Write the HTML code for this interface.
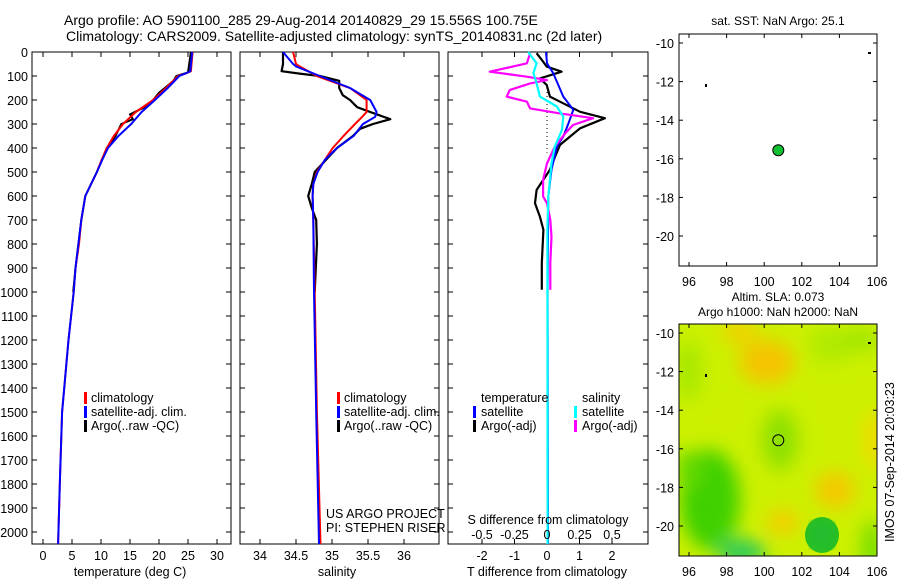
<!DOCTYPE html>
<html><head><meta charset="utf-8"><style>
html,body{margin:0;padding:0;background:#fff;}
svg{display:block;font-family:"Liberation Sans",sans-serif;}
text{fill:#000;}
</style></head><body>
<svg id="fig" width="900" height="580" viewBox="0 0 900 580" xmlns="http://www.w3.org/2000/svg">
<defs><filter id="blur" x="-20%" y="-20%" width="140%" height="140%"><feGaussianBlur stdDeviation="9"/></filter>
<clipPath id="mapclip"><rect x="679" y="324" width="198" height="232"/></clipPath></defs>
<text x="64" y="25" font-size="14">Argo profile: AO 5901100_285 29-Aug-2014 20140829_29 15.556S 100.75E</text>
<text x="66" y="41" font-size="14">Climatology: CARS2009. Satellite-adjusted climatology: synTS_20140831.nc (2d later)</text>
<g id="g"></g>
</svg>
<script>
// ---------- data ----------
var depthTicks=[0,100,200,300,400,500,600,700,800,900,1000,1100,1200,1300,1400,1500,1600,1700,1800,1900,2000];
var tempTicks=[0,5,10,15,20,25,30];
var salTicks=[34,34.5,35,35.5,36];
var tdiffTicks=[-2,-1,0,1,2];
var sdiffTicks=[-0.5,-0.25,0,0.25,0.5];
var sdiffLabels=["-0.5","-0.25","0","0.25","0.5"];
var lonTicks=[96,98,100,102,104,106];
var latTicks=[-10,-12,-14,-16,-18,-20];

var climDepth=[0,80,90,100,150,200,250,300,350,400,450,500,600,700,800,900,1000,1200,1500,1800,2050];
var tempSat=[25.7,25.4,24.5,23.5,21.5,19.3,17,15.2,13,11.2,10.2,9.3,7.3,6.6,6.1,5.6,5.3,4.4,3.3,2.9,2.6];
var tempClim=[25.8,25.5,24.6,23.3,21.2,19,16,13.8,12.2,11,10.1,9.3,7.3,6.6,6.2,5.6,5.3,4.4,3.3,2.9,2.6];
var argoDepth=[0,85,100,120,150,170,200,230,260,280,300,350,400,500,600,700,800,900,1000];
var tempArgo=[25.5,25,23,22.5,21,20,19,17.5,15,15.5,13.5,12.5,11,9.3,7.3,6.6,6.1,5.6,5.2];

var salDepth=[0,50,60,100,150,200,250,270,300,350,400,450,500,550,600,700,1000,1500,2050];
var salSat=[34.32,34.46,34.5,34.83,35.25,35.53,35.62,35.6,35.43,35.3,35.07,34.9,34.8,34.74,34.73,34.74,34.75,34.78,34.82];
var salClim=[34.46,34.5,34.55,34.79,35.25,35.48,35.48,35.42,35.32,35.16,35.01,34.9,34.79,34.74,34.73,34.74,34.76,34.79,34.84];
var salArgoDepth=[0,50,80,90,100,120,150,180,200,230,250,280,300,320,350,400,500,550,600,650,700,800,1000];
var salArgo=[34.32,34.32,34.3,34.55,34.83,35.1,35.1,35.15,35.25,35.35,35.53,35.81,35.57,35.39,35.29,35.07,34.76,34.72,34.67,34.72,34.78,34.79,34.76];

var dTsatDepth=[0,47,88,186,241,297,352,394,491,602,1000,2050];
var dTsat=[-0.03,0,0.19,0.5,0.81,0.66,0.5,0.3,0.14,0.04,0.02,0.03];
var dTargoDepth=[5,33,61,82,110,137,186,207,249,276,318,352,387,436,491,575,630,686,741,880,991];
var dTargo=[-0.32,-0.16,-0.01,0.45,-0.22,-0.01,0.09,0.4,1.02,1.78,1.02,0.71,0.4,0.25,0.09,-0.32,-0.37,-0.22,-0.11,-0.16,-0.16];
var dSsatDepth=[0,47,88,131,186,227,269,324,394,464,602,741,2050];
var dSsat=[-0.145,-0.08,-0.105,-0.08,-0.055,0.075,0.125,0.115,0.06,0.035,0.01,0.003,0.005];
var dSargoDepth=[5,47,82,103,117,131,158,186,207,235,256,276,304,339,394,464,533,602,630,700,769,880,991];
var dSargo=[-0.13,-0.155,-0.44,-0.155,0,-0.13,-0.285,-0.31,-0.155,-0.13,0.1,0.355,0.2,0.14,0.06,0,-0.03,-0.03,0,0.025,0.035,0.025,0.025];

var floatLon=[100.75];
var floatLat=[-15.556];

// ---------- helpers ----------
var NS="http://www.w3.org/2000/svg";
var G=document.getElementById('g');
function mk(tag,at,parent){var e=document.createElementNS(NS,tag);for(var k in at)e.setAttribute(k,at[k]);(parent||G).appendChild(e);return e;}
var top0=52, bot0=544;
function yD(d){return top0+d*0.24;}
function panel(x0,x1,name){
  var r=mk('rect',{x:x0,y:top0,width:x1-x0,height:bot0-top0,fill:'none',stroke:'#000','stroke-width':1});
  
  
  depthTicks.forEach(function(d){var y=yD(d);mk('line',{x1:x0,x2:x0+5,y1:y,y2:y,stroke:'#000'});mk('line',{x1:x1-5,x2:x1,y1:y,y2:y,stroke:'#000'});});
}
function xticks(xs,fx){xs.forEach(function(v){var x=fx(v);mk('line',{x1:x,x2:x,y1:top0,y2:top0+5,stroke:'#000'});mk('line',{x1:x,x2:x,y1:bot0-5,y2:bot0,stroke:'#000'});});}
function line(ds,vs,fx,color,w,name){
  var p=ds.map(function(d,i){return fx(vs[i]).toFixed(1)+','+yD(d).toFixed(1);}).join(' ');
  var e=mk('polyline',{points:p,fill:'none',stroke:color,'stroke-width':w,'stroke-linejoin':'round'});
  
  
}
function txt(x,y,s,size,anchor,name){var t=mk('text',{x:x,y:y,'font-size':size,'text-anchor':anchor||'start'});t.textContent=s;
  
  
  return t;}
function legendMark(x,y,color){mk('rect',{x:x,y:y-10,width:3,height:12,fill:color});}

// ---------- panel 1 temperature ----------
var fT=function(v){return 43+v*5.8;};
panel(32,231,'temperature-panel');
xticks(tempTicks,fT);
depthTicks.forEach(function(d){txt(28,yD(d)+5,String(d),12.5,'end','depth-tick-label');});
tempTicks.forEach(function(v){txt(fT(v),560,String(v),12.5,'middle','temp-tick-label');});
txt(130,576,'temperature (deg C)',12.5,'middle','temp-axis-title');
line(argoDepth,tempArgo,fT,'#000',2,'temp-argo-line');
line(climDepth,tempClim,fT,'#f00',2,'temp-clim-line');
line(climDepth,tempSat,fT,'#00f',2,'temp-sat-line');
legendMark(84,402,'#f00');txt(91,402,'climatology',12.5,'start','legend-climatology');
legendMark(84,416,'#00f');txt(91,416,'satellite-adj. clim.',12.5,'start','legend-satellite');
legendMark(84,430,'#000');txt(91,430,'Argo(..raw -QC)',12.5,'start','legend-argo');

// ---------- panel 2 salinity ----------
var fS=function(v){return 260+(v-34)*72;};
panel(240,439,'salinity-panel');
xticks(salTicks,fS);
salTicks.forEach(function(v){txt(fS(v),560,String(v),12.5,'middle','sal-tick-label');});
txt(337,576,'salinity',12.5,'middle','sal-axis-title');
line(salArgoDepth,salArgo,fS,'#000',2.2,'sal-argo-line');
line(salDepth,salClim,fS,'#f00',2,'sal-clim-line');
line(salDepth,salSat,fS,'#00f',2,'sal-sat-line');
legendMark(337,402,'#f00');txt(344,402,'climatology',12.5,'start','legend-climatology');
legendMark(337,416,'#00f');txt(344,416,'satellite-adj. clim.',12.5,'start','legend-satellite');
legendMark(337,430,'#000');txt(344,430,'Argo(..raw -QC)',12.5,'start','legend-argo');
txt(326,518,'US ARGO PROJECT',12.5,'start','project-label');
txt(326,532,'PI: STEPHEN RISER',12.5,'start','pi-label');

// ---------- panel 3 differences ----------
var fdT=function(v){return 547+v*32.5;};
var fdS=function(v){return 547+v*130;};
panel(448,648,'difference-panel');
xticks(tdiffTicks,fdT);
mk('line',{x1:547,x2:547,y1:yD(100),y2:yD(420),stroke:'#000','stroke-dasharray':'1,3'});
line(dTargoDepth,dTargo,fdT,'#000',2.2,'dT-argo-line');
line(dTsatDepth,dTsat,fdT,'#00f',2,'dT-sat-line');
line(dSargoDepth,dSargo,fdS,'#f0f',2.2,'dS-argo-line');
line(dSsatDepth,dSsat,fdS,'#0ff',2.2,'dS-sat-line');
tdiffTicks.forEach(function(v){txt(fdT(v),560,String(v),12.5,'middle','tdiff-tick-label');});
sdiffTicks.forEach(function(v,i){txt(fdS(v),539,sdiffLabels[i],12.5,'middle','sdiff-tick-label');});
txt(548,524,'S difference from climatology',12.5,'middle','sdiff-axis-title');
txt(547,576,'T difference from climatology',12.5,'middle','tdiff-axis-title');
txt(481,402,'temperature',12.5,'start','legend-temperature-header');
txt(582,402,'salinity',12.5,'start','legend-salinity-header');
legendMark(473,416,'#00f');txt(481,416,'satellite',12.5,'start','legend-t-satellite');
legendMark(473,430,'#000');txt(481,430,'Argo(-adj)',12.5,'start','legend-t-argo');
legendMark(574,416,'#0ff');txt(582,416,'satellite',12.5,'start','legend-s-satellite');
legendMark(574,430,'#f0f');txt(582,430,'Argo(-adj)',12.5,'start','legend-s-argo');

// ---------- maps ----------
function mapAxes(y0,name){
  var fx=function(l){return 689+(l-96)*18.8;};
  var fy=function(l){return y0+9+(-10-l)*19.3;};
  var r=mk('rect',{x:679,y:y0,width:198,height:232,fill:'none',stroke:'#000'});
  
  
  lonTicks.forEach(function(l){var x=fx(l);mk('line',{x1:x,x2:x,y1:y0,y2:y0+4,stroke:'#000'});mk('line',{x1:x,x2:x,y1:y0+228,y2:y0+232,stroke:'#000'});
    txt(x,y0+252,String(l),12.5,'middle','lon-tick-label');});
  latTicks.forEach(function(l){var y=fy(l);mk('line',{x1:679,x2:683,y1:y,y2:y,stroke:'#000'});mk('line',{x1:873,x2:877,y1:y,y2:y,stroke:'#000'});
    txt(674,y+5,String(l),12.5,'end','lat-tick-label');});
  mk('rect',{x:705,y:y0+50,width:2,height:3,fill:'#000'});
  mk('rect',{x:868,y:y0+18,width:3,height:2,fill:'#000'});
  return {fx:fx,fy:fy};
}
var bg=mk('g',{'clip-path':'url(#mapclip)'});
mk('rect',{x:679,y:324,width:198,height:232,fill:'#ccf000'},bg);
var fb=mk('g',{filter:'url(#blur)'},bg);
[[767,362,28,22,'#f5c400'],[740,332,18,12,'#f0d000'],[783,522,16,12,'#f5cc00'],[835,490,20,18,'#f5c800'],[875,440,12,30,'#f0dc00'],
 [710,500,30,50,'#40d000'],[690,470,14,20,'#60d800'],[742,552,24,12,'#20c860'],[780,440,18,30,'#8ee000'],[688,370,14,30,'#a8e800'],
 [830,345,22,18,'#b0ea00'],[872,550,10,30,'#70dc00'],[860,340,20,12,'#a0e600']].forEach(function(b){mk('ellipse',{cx:b[0],cy:b[1],rx:b[2],ry:b[3],fill:b[4]},fb);});
mk('ellipse',{cx:822,cy:535,rx:17,ry:18,fill:'#28c020'},bg);
mk('ellipse',{cx:822,cy:535,rx:10,ry:11,fill:'#20b840',filter:'url(#blur)'},bg);



var m1=mapAxes(34,'sst-map');
var m2=mapAxes(324,'sla-map');
txt(778,25,'sat. SST: NaN Argo: 25.1',12,'middle','sst-map-title');
txt(778,301,'Altim. SLA: 0.073',12,'middle','sla-map-title');
txt(778,316,'Argo h1000: NaN h2000: NaN',12,'middle','sla-map-subtitle');
var p1=mk('circle',{cx:m1.fx(floatLon[0]),cy:m1.fy(floatLat[0]),r:5.5,fill:'#10c030',stroke:'#000','stroke-width':1});


var p2=mk('circle',{cx:m2.fx(floatLon[0]),cy:m2.fy(floatLat[0]),r:5.5,fill:'none',stroke:'#000','stroke-width':1});


var st=txt(0,0,'IMOS 07-Sep-2014 20:03:23',12.5,'start','timestamp-label');
st.setAttribute('transform','translate(894,542) rotate(-90)');
</script>
</body></html>
